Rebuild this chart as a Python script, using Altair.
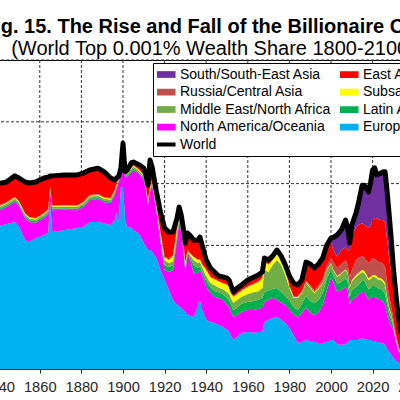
import altair as alt
import pandas as pd

# Years sampled for the regional decomposition
years = [
    1836, 1839, 1844, 1848, 1850, 1853, 1855, 1858, 1862, 1864,
    1865, 1866, 1872, 1878, 1881, 1884, 1888, 1891, 1894, 1896,
    1897, 1898, 1899, 1900, 1901, 1902, 1904, 1905, 1907, 1908,
    1910, 1911, 1912, 1913, 1914, 1916, 1918,
    1920, 1922, 1924, 1926, 1927, 1928, 1929, 1930, 1931, 1932,
    1934, 1936, 1937, 1938, 1940, 1942, 1944, 1946, 1948, 1950,
    1951, 1953, 1955, 1957, 1960, 1963, 1965, 1967,
    1968, 1970, 1972, 1974, 1976, 1978, 1980, 1982, 1984, 1986,
    1988, 1990, 1992, 1994, 1996, 1998, 2000, 2001, 2003, 2005,
    2007, 2008, 2009, 2010, 2012, 2013, 2015, 2016, 2017, 2018,
    2019, 2020, 2021, 2022, 2023, 2024, 2025, 2026, 2027, 2028,
    2029, 2030, 2031, 2032, 2033, 2034, 2036, 2040,
]

# Contribution of each region to the world top 0.001% wealth share (%)
europe = [
    4.60, 4.60, 4.69, 4.76, 4.60, 4.17, 4.11, 4.24, 4.34, 4.40,
    5.37, 4.43, 4.50, 4.56, 4.60, 4.76, 4.76, 4.72, 4.66, 4.82,
    5.08, 4.76, 5.89, 5.89, 4.82, 4.60, 4.56, 4.50, 4.40, 4.34,
    4.08, 3.95, 3.85, 3.85, 3.79, 3.59, 3.20,
    2.88, 2.56, 2.23, 2.07, 2.04, 1.97, 1.91, 1.84, 1.75, 1.72,
    1.68, 2.07, 2.23, 1.91, 1.59, 1.52, 1.49, 1.42, 1.36, 1.26,
    1.20, 0.94, 1.04, 1.17, 1.20, 1.17, 1.20, 1.20,
    1.52, 1.59, 1.65, 1.68, 1.59, 1.49, 1.33, 1.10, 0.84, 0.87,
    0.94, 0.91, 0.87, 0.84, 0.84, 0.87, 0.94, 0.94, 0.81, 0.78,
    0.81, 0.87, 0.94, 0.94, 0.94, 0.94, 1.00, 0.97, 0.97, 0.94,
    0.94, 0.91, 0.91, 0.87, 0.87, 0.84, 0.84, 0.78, 0.65, 0.55,
    0.45, 0.36, 0.29, 0.23, 0.19, 0.16, 0.10, 0.05,
]
north_america = [
    0.49, 0.49, 0.55, 0.65, 0.68, 0.71, 0.65, 0.49, 0.55, 0.61,
    0.36, 0.71, 0.65, 0.58, 0.65, 0.71, 0.74, 0.68, 0.71, 0.81,
    0.78, 1.28, 0.42, 1.12, 1.36, 1.62, 1.81, 1.94, 1.94, 1.94,
    2.04, 1.84, 1.46, 1.88, 2.17, 1.55, 0.91,
    0.32, 0.58, 0.97, 2.10, 2.72, 2.46, 1.94, 1.29, 1.94, 1.88,
    1.42, 1.04, 0.97, 1.13, 1.07, 0.94, 0.84, 0.87, 0.87, 0.81,
    0.81, 0.74, 0.71, 0.68, 0.71, 0.74, 0.74, 0.78,
    0.65, 0.65, 0.65, 0.55, 0.55, 0.58, 0.58, 0.65, 0.84, 0.94,
    1.04, 0.91, 0.87, 1.00, 1.23, 1.68, 2.01, 1.88, 1.68, 1.78,
    1.84, 1.68, 1.13, 1.29, 1.39, 1.46, 1.49, 1.52, 1.39, 1.29,
    1.36, 1.42, 1.42, 1.42, 1.36, 1.39, 1.33, 1.29, 1.10, 0.97,
    0.94, 0.91, 0.65, 0.45, 0.29, 0.19, 0.13, 0.05,
]
latin_america = [
    0.05, 0.05, 0.05, 0.05, 0.05, 0.05, 0.05, 0.05, 0.05, 0.05,
    0.05, 0.05, 0.05, 0.05, 0.05, 0.05, 0.05, 0.05, 0.05, 0.05,
    0.05, 0.05, 0.05, 0.05, 0.05, 0.05, 0.05, 0.05, 0.05, 0.05,
    0.05, 0.05, 0.05, 0.05, 0.05, 0.08, 0.12,
    0.16, 0.16, 0.16, 0.13, 0.06, 0.05, 0.10, 0.13, 0.06, 0.06,
    0.26, 0.16, 0.13, 0.13, 0.19, 0.19, 0.19, 0.19, 0.19, 0.23,
    0.23, 0.23, 0.23, 0.26, 0.26, 0.29, 0.29, 0.32,
    0.32, 0.29, 0.29, 0.39, 0.36, 0.29, 0.32, 0.26, 0.23, 0.29,
    0.39, 0.39, 0.39, 0.39, 0.39, 0.39, 0.26, 0.23, 0.26, 0.26,
    0.29, 0.29, 0.26, 0.32, 0.32, 0.32, 0.36, 0.36, 0.36, 0.36,
    0.32, 0.36, 0.36, 0.36, 0.36, 0.36, 0.36, 0.36, 0.32, 0.23,
    0.19, 0.10, 0.06, 0.05, 0.03, 0.02, 0.01, 0.01,
]
middle_east = [
    0.06, 0.06, 0.06, 0.06, 0.06, 0.06, 0.06, 0.06, 0.06, 0.06,
    0.06, 0.06, 0.06, 0.06, 0.06, 0.06, 0.06, 0.06, 0.06, 0.06,
    0.06, 0.06, 0.06, 0.06, 0.06, 0.06, 0.06, 0.06, 0.06, 0.06,
    0.06, 0.06, 0.06, 0.06, 0.06, 0.08, 0.12,
    0.16, 0.13, 0.13, 0.13, 0.06, 0.05, 0.10, 0.10, 0.06, 0.06,
    0.16, 0.16, 0.13, 0.13, 0.16, 0.13, 0.19, 0.16, 0.16, 0.19,
    0.19, 0.23, 0.26, 0.23, 0.26, 0.29, 0.29, 0.32,
    0.71, 0.61, 0.78, 0.91, 0.87, 0.68, 0.39, 0.29, 0.39, 0.36,
    0.42, 0.42, 0.32, 0.36, 0.32, 0.26, 0.19, 0.16, 0.23, 0.26,
    0.26, 0.26, 0.29, 0.29, 0.32, 0.32, 0.29, 0.26, 0.29, 0.29,
    0.29, 0.29, 0.29, 0.29, 0.29, 0.29, 0.29, 0.29, 0.23, 0.19,
    0.16, 0.06, 0.06, 0.04, 0.03, 0.02, 0.01, 0.01,
]
subsaharan = [
    0.03, 0.03, 0.03, 0.03, 0.03, 0.03, 0.03, 0.03, 0.03, 0.03,
    0.03, 0.03, 0.03, 0.03, 0.03, 0.03, 0.03, 0.03, 0.03, 0.03,
    0.03, 0.03, 0.03, 0.03, 0.03, 0.03, 0.03, 0.03, 0.03, 0.03,
    0.03, 0.03, 0.03, 0.03, 0.03, 0.04, 0.06,
    0.10, 0.10, 0.16, 0.10, 0.04, 0.03, 0.06, 0.06, 0.03, 0.03,
    0.10, 0.10, 0.08, 0.08, 0.19, 0.19, 0.19, 0.19, 0.19, 0.23,
    0.23, 0.19, 0.19, 0.19, 0.23, 0.26, 0.29, 0.32,
    0.26, 0.23, 0.16, 0.23, 0.16, 0.16, 0.06, 0.03, 0.03, 0.03,
    0.03, 0.03, 0.03, 0.03, 0.03, 0.03, 0.03, 0.03, 0.03, 0.03,
    0.03, 0.03, 0.03, 0.03, 0.06, 0.06, 0.06, 0.06, 0.06, 0.06,
    0.06, 0.06, 0.06, 0.06, 0.06, 0.06, 0.06, 0.06, 0.06, 0.06,
    0.03, 0.03, 0.03, 0.02, 0.02, 0.01, 0.01, 0.00,
]
russia = [
    0.02, 0.02, 0.02, 0.02, 0.02, 0.02, 0.02, 0.02, 0.02, 0.02,
    0.02, 0.02, 0.02, 0.02, 0.02, 0.02, 0.02, 0.02, 0.02, 0.02,
    0.02, 0.02, 0.02, 0.02, 0.02, 0.02, 0.02, 0.02, 0.02, 0.02,
    0.02, 0.02, 0.02, 0.02, 0.02, 0.02, 0.02,
    0.02, 0.02, 0.03, 0.03, 0.02, 0.02, 0.02, 0.02, 0.02, 0.02,
    0.02, 0.02, 0.02, 0.02, 0.02, 0.02, 0.02, 0.02, 0.02, 0.02,
    0.02, 0.02, 0.02, 0.02, 0.02, 0.02, 0.02, 0.02,
    0.02, 0.02, 0.02, 0.02, 0.02, 0.02, 0.03, 0.03, 0.03, 0.03,
    0.03, 0.06, 0.06, 0.08, 0.10, 0.13, 0.16, 0.23, 0.26, 0.29,
    0.29, 0.26, 0.32, 0.32, 0.49, 0.49, 0.45, 0.45, 0.45, 0.49,
    0.52, 0.55, 0.52, 0.52, 0.52, 0.52, 0.52, 0.52, 0.42, 0.32,
    0.26, 0.13, 0.10, 0.08, 0.06, 0.04, 0.02, 0.01,
]
east_asia = [
    0.74, 0.74, 0.65, 0.68, 0.74, 1.01, 1.10, 1.16, 1.13, 1.04,
    0.36, 0.95, 0.97, 0.98, 0.93, 0.81, 0.84, 0.82, 0.65, 0.33,
    0.16, 0.05, 0.03, 0.05, 0.04, 0.06, 0.14, 0.10, 0.13, 0.16,
    0.22, 0.33, 0.48, 0.71, 0.42, 0.40, 0.65,
    0.92, 0.89, 0.74, 0.32, 0.30, 0.40, 0.43, 0.64, 0.54, 0.57,
    0.53, 0.62, 0.71, 0.61, 0.31, 0.28, 0.22, 0.16, 0.19, 0.20,
    0.20, 0.14, 0.17, 0.17, 0.20, 0.21, 0.21, 0.18,
    0.11, 0.14, 0.11, 0.07, 0.11, 0.15, 0.30, 0.42, 0.36, 0.36,
    0.61, 0.68, 0.73, 0.70, 0.68, 0.55, 0.52, 0.39, 0.36, 0.45,
    0.42, 0.45, 0.87, 1.13, 1.07, 1.07, 1.07, 1.04, 1.10, 1.13,
    1.17, 1.23, 1.33, 1.36, 1.39, 1.36, 1.42, 1.46, 1.39, 1.23,
    1.10, 1.07, 0.81, 0.58, 0.45, 0.35, 0.18, 0.08,
]
south_asia = [
    0.00, 0.00, 0.00, 0.00, 0.00, 0.00, 0.00, 0.00, 0.00, 0.00,
    0.00, 0.00, 0.00, 0.00, 0.00, 0.00, 0.00, 0.00, 0.00, 0.00,
    0.00, 0.00, 0.00, 0.00, 0.00, 0.00, 0.00, 0.00, 0.00, 0.00,
    0.00, 0.00, 0.00, 0.00, 0.00, 0.00, 0.00,
    0.00, 0.00, 0.00, 0.00, 0.00, 0.00, 0.00, 0.00, 0.00, 0.00,
    0.00, 0.00, 0.00, 0.00, 0.00, 0.00, 0.00, 0.00, 0.00, 0.00,
    0.00, 0.00, 0.00, 0.00, 0.00, 0.00, 0.00, 0.00,
    0.00, 0.00, 0.00, 0.00, 0.00, 0.00, 0.00, 0.00, 0.00, 0.00,
    0.00, 0.00, 0.00, 0.00, 0.00, 0.10, 0.13, 0.39, 0.71, 0.65,
    0.87, 0.71, 0.23, 0.32, 0.45, 0.65, 1.23, 1.29, 1.23, 1.17,
    1.36, 1.62, 1.62, 1.39, 1.46, 1.52, 1.55, 1.62, 1.55, 1.43,
    1.04, 0.61, 0.56, 0.46, 0.35, 0.28, 0.15, 0.08,
]
# World total (%)
world = [
    5.99, 5.99, 6.05, 6.25, 6.18, 6.05, 6.02, 6.05, 6.18, 6.21,
    6.25, 6.25, 6.28, 6.28, 6.34, 6.44, 6.50, 6.38, 6.18, 6.12,
    6.18, 6.25, 6.50, 7.31, 6.38, 6.44, 6.67, 6.70, 6.63, 6.60,
    6.50, 6.28, 5.95, 6.76, 6.54, 5.76, 5.08,
    4.56, 4.43, 4.43, 4.89, 5.24, 4.98, 4.56, 4.08, 4.40, 4.34,
    4.17, 4.17, 4.27, 4.01, 3.53, 3.27, 3.14, 3.01, 2.98, 2.94,
    2.88, 2.49, 2.62, 2.72, 2.88, 2.98, 3.04, 3.14,
    3.59, 3.53, 3.66, 3.85, 3.66, 3.37, 3.01, 2.78, 2.72, 2.88,
    3.46, 3.40, 3.27, 3.40, 3.59, 4.01, 4.24, 4.25, 4.34, 4.50,
    4.82, 4.56, 4.08, 4.66, 5.05, 5.31, 5.95, 5.95, 5.86, 5.73,
    6.02, 6.44, 6.51, 6.28, 6.31, 6.34, 6.38, 6.38, 5.73, 4.98,
    4.17, 3.27, 2.56, 1.91, 1.42, 1.07, 0.61, 0.29,
]

# Legend order (row by row); the stack is drawn in the reverse order, Europe at the bottom
regions = [
    "South/South-East Asia", "East Asia",
    "Russia/Central Asia", "Subsaharan Africa",
    "Middle East/North Africa", "Latin America",
    "North America/Oceania", "Europe",
]
region_colors = [
    "#7030A0", "#FF0000",
    "#C0504D", "#FFFF00",
    "#70AD47", "#00B050",
    "#FF00FF", "#00B0F0",
]
series = {
    "South/South-East Asia": south_asia,
    "East Asia": east_asia,
    "Russia/Central Asia": russia,
    "Subsaharan Africa": subsaharan,
    "Middle East/North Africa": middle_east,
    "Latin America": latin_america,
    "North America/Oceania": north_america,
    "Europe": europe,
}

x_ticks = list(range(1800, 2101, 20))
y_ticks = [0, 2, 4, 6, 8, 10]

rows = []
for rank, name in enumerate(reversed(regions)):
    for yr, val in zip(years, series[name]):
        rows.append({"year": yr, "region": name, "share": val, "rank": rank})
area_df = pd.DataFrame(rows)
world_df = pd.DataFrame({"year": years, "share": world, "region": "World"})

FONT = "Liberation Sans"

x_scale = alt.Scale(domain=[1800, 2100], nice=False, zero=False)
y_scale = alt.Scale(domain=[0, 10], nice=False)
color_scale = alt.Scale(domain=regions + ["World"], range=region_colors + ["#000000"])

x_axis = alt.Axis(
    values=x_ticks, format="d", title=None, grid=False,
    labelFont=FONT, labelFontSize=14.7, labelColor="#262626",
    labelPadding=6, tickSize=4, tickColor="#262626",
    domainColor="#262626", labelFlush=False, labelOverlap=False, zindex=1,
)
y_axis = alt.Axis(
    values=y_ticks, title=None, grid=False,
    labelFont=FONT, labelFontSize=14, labelColor="#262626",
    tickSize=4, tickColor="#262626", domainColor="#262626", zindex=1,
)

# Legend keys: filled bars for the regions, a thick black stroke for World
is_world = "datum.value === 'World'"
legend = alt.Legend(
    title=None, orient="none", legendX=238, legendY=3,
    direction="horizontal", columns=2,
    labelFont=FONT, labelFontSize=14, labelColor="black", labelLimit=300,
    symbolSize=225, symbolOffset=2, labelOffset=7,
    symbolType={"expr": f"{is_world} ? 'M-1.27,0H1.27' : 'M-1.27,-0.45H1.27V0.45H-1.27Z'"},
    symbolStrokeWidth={"expr": f"{is_world} ? 4 : 0"},
    symbolStrokeColor={"expr": f"{is_world} ? '#000000' : 'transparent'"},
    symbolOpacity=1,
    columnPadding=9, rowPadding=2.5, clipHeight=15, padding=4,
    strokeColor="black", fillColor="white",
)

v_grid = alt.Chart(pd.DataFrame({"year": x_ticks})).mark_rule(
    color="#333333", strokeWidth=1, strokeDash=[3, 2]
).encode(x=alt.X("year:Q", scale=x_scale, axis=x_axis))

h_grid = alt.Chart(pd.DataFrame({"share": y_ticks})).mark_rule(
    color="#333333", strokeWidth=1, strokeDash=[3, 2]
).encode(y=alt.Y("share:Q", scale=y_scale, axis=y_axis))

areas = alt.Chart(area_df).mark_area(clip=True, interpolate="linear").encode(
    x=alt.X("year:Q", scale=x_scale, axis=x_axis),
    y=alt.Y("share:Q", stack="zero", scale=y_scale, axis=y_axis),
    color=alt.Color("region:N", scale=color_scale, legend=legend),
    order=alt.Order("rank:Q"),
)

world_line = alt.Chart(world_df).mark_line(
    clip=True, strokeWidth=5, strokeJoin="round"
).encode(
    x=alt.X("year:Q", scale=x_scale, axis=x_axis),
    y=alt.Y("share:Q", stack=None, scale=y_scale, axis=y_axis),
    color=alt.Color("region:N", scale=color_scale, legend=legend),
)

chart = alt.layer(v_grid, h_grid, areas, world_line).properties(
    width=624,
    height=309,
    autosize="none",
    padding={"left": -85, "top": 60, "right": -139, "bottom": 31},
    background="white",
    title=alt.TitleParams(
        text="Fig. 15. The Rise and Fall of the Billionaire Class",
        subtitle="(World Top 0.001% Wealth Share 1800-2100)",
        font=FONT, fontSize=20, fontWeight="bold", color="black",
        subtitleFont=FONT, subtitleFontSize=20, subtitleColor="black",
        subtitlePadding=2, anchor="middle", frame="group", dx=-14, dy=6, offset=0,
    ),
).configure_view(stroke="black", strokeWidth=1)

chart.save("out.html", embed_options={"renderer": "svg", "actions": False})
